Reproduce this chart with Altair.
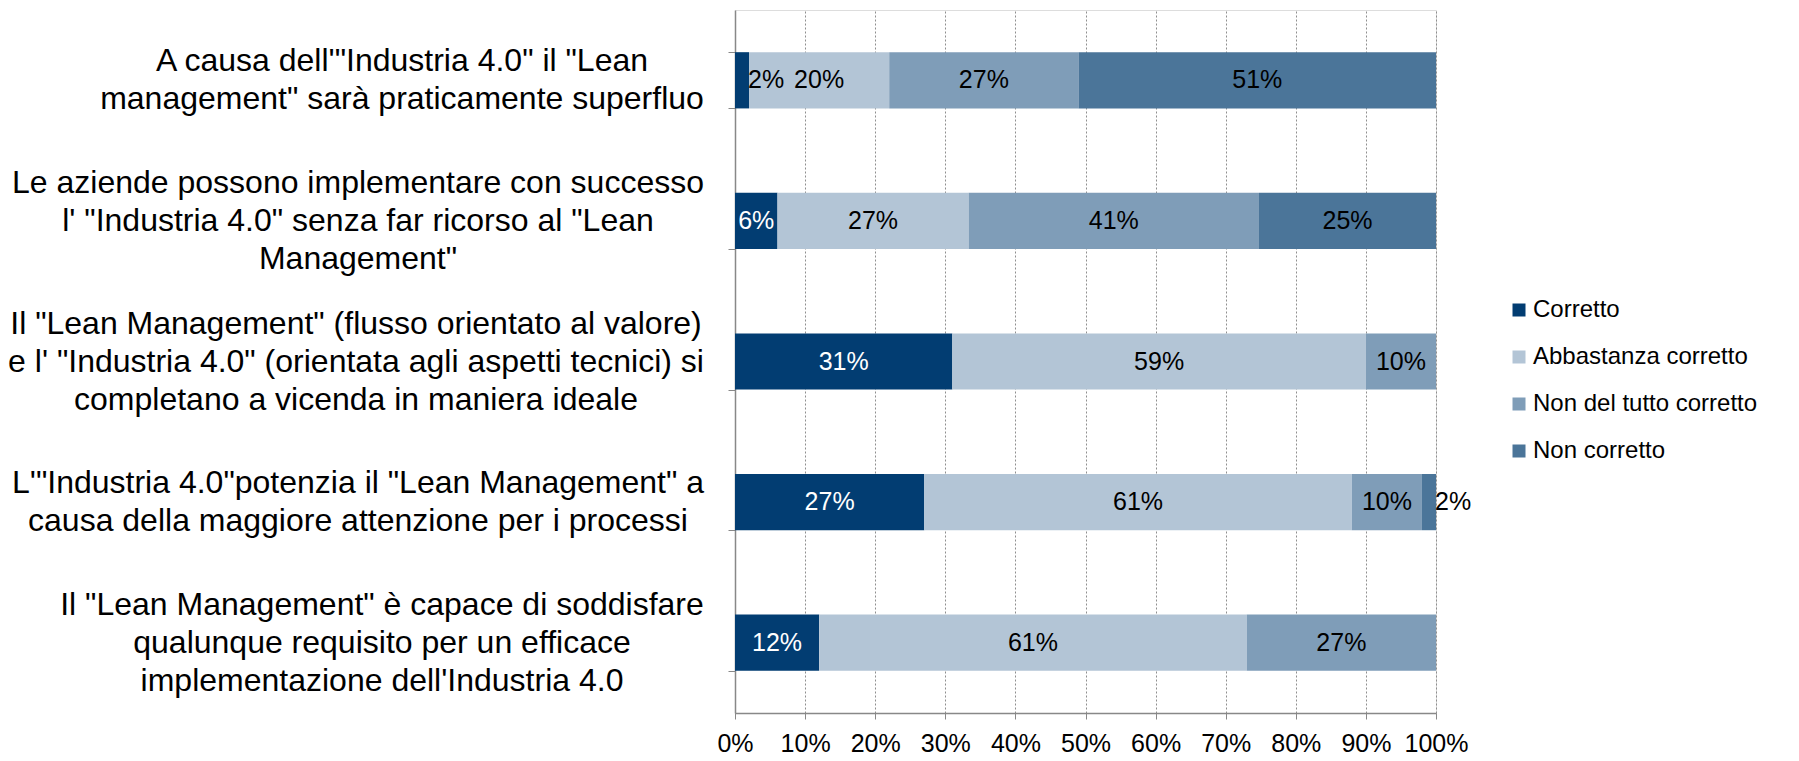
import altair as alt
import pandas as pd

categories = [
    'A causa dell\'"Industria 4.0" il "Lean\nmanagement" sarà praticamente superfluo',
    'Le aziende possono implementare con successo\nl\' "Industria 4.0" senza far ricorso al "Lean\nManagement"',
    'Il "Lean Management" (flusso orientato al valore)\ne l\' "Industria 4.0" (orientata agli aspetti tecnici) si\ncompletano a vicenda in maniera ideale',
    'L\'"Industria 4.0"potenzia il "Lean Management" a\ncausa della maggiore attenzione per i processi',
    'Il "Lean Management" è capace di soddisfare\nqualunque requisito per un efficace\nimplementazione dell\'Industria 4.0',
]
series_names = ["Corretto", "Abbastanza corretto", "Non del tutto corretto", "Non corretto"]
corretto = [2, 6, 31, 27, 12]
abbastanza = [20, 27, 59, 61, 61]
non_del_tutto = [27, 41, 10, 10, 27]
non_corretto = [51, 25, 0, 2, 0]
colors = ["#023D72", "#B3C5D6", "#7F9DB8", "#4B7599"]
x_ticks = [0, 0.1, 0.2, 0.3, 0.4, 0.5, 0.6, 0.7, 0.8, 0.9, 1.0]

rows = []
for s_i, (name, vals) in enumerate(zip(series_names, [corretto, abbastanza, non_del_tutto, non_corretto])):
    for c, v in zip(categories, vals):
        rows.append({"category": c, "series": name, "value": v, "order": s_i})
df = pd.DataFrame(rows)
cat_df = pd.DataFrame({"category": categories})

FONT = "Liberation Sans"
XSCALE = alt.Scale(domain=[0, 1], nice=False)

y_enc = alt.Y(
    "category:N",
    sort=categories,
    scale=alt.Scale(paddingInner=0.6, paddingOuter=0.3),
    axis=alt.Axis(
        title=None,
        labels=False,
        tickBand="extent",
        tickSize=7,
        tickColor="#888888",
        domainColor="#888888",
        domainWidth=1.5,
        grid=False,
    ),
)

bars = alt.Chart(df).mark_bar().encode(
    x=alt.X(
        "value:Q",
        stack="normalize",
        scale=XSCALE,
        axis=alt.Axis(
            title=None,
            format=".0%",
            values=x_ticks,
            labelFont=FONT,
            labelFontSize=25,
            labelColor="black",
            labelPadding=12,
            labelFlush=False,
            grid=True,
            gridDash=[2, 2],
            gridColor="#8f8f8f",
            gridWidth=1,
            tickSize=6,
            tickColor="#888888",
            domainColor="#888888",
            domainWidth=1.5,
        ),
    ),
    y=y_enc,
    color=alt.Color(
        "series:N",
        sort=series_names,
        scale=alt.Scale(domain=series_names, range=colors),
        legend=alt.Legend(
            title=None,
            orient="none",
            legendX=772,
            legendY=288,
            symbolType="square",
            symbolSize=169,
            symbolStrokeWidth=0,
            symbolOpacity=1,
            labelFont=FONT,
            labelFontSize=24,
            labelColor="black",
            labelOffset=2,
            rowPadding=23,
            labelLimit=0,
        ),
    ),
    order=alt.Order("order:Q"),
)

base_text = (
    alt.Chart(df)
    .transform_joinaggregate(total="sum(value)", groupby=["category"])
    .transform_window(cum="sum(value)", sort=[alt.SortField("order")], groupby=["category"], frame=[None, 0])
    .transform_calculate(
        end="datum.cum / datum.total",
        mid="(datum.cum - datum.value / 2) / datum.total",
        label="format(datum.value, 'd') + '%'",
    )
)

mid_labels = base_text.transform_filter("datum.value >= 3").mark_text(
    font=FONT, fontSize=25, align="center", baseline="middle"
).encode(
    x=alt.X("mid:Q", scale=XSCALE, title=None),
    y=alt.Y("category:N", sort=categories),
    text="label:N",
    color=alt.condition("datum.series == 'Corretto'", alt.value("white"), alt.value("black")),
)

small_labels = base_text.transform_filter("datum.value > 0 && datum.value < 3").mark_text(
    font=FONT, fontSize=25, align="left", baseline="middle", dx=-1
).encode(
    x=alt.X("end:Q", scale=XSCALE, title=None),
    y=alt.Y("category:N", sort=categories),
    text="label:N",
    color=alt.value("black"),
)

# category labels: centred lines, block right edge next to the axis, block centred on the band
cat_labels = alt.Chart(cat_df).mark_text(
    font=FONT,
    fontSize=32,
    lineHeight=38,
    lineBreak="\n",
    align="center",
    baseline="middle",
    color="black",
    dx=alt.expr(
        "indexof(datum.category, 'A causa') >= 0 ? -333 : "
        "indexof(datum.category, 'capace') >= 0 ? -353 : "
        "indexof(datum.category, 'flusso') >= 0 ? -379 : -377"
    ),
    dy=alt.expr("-(length(split(datum.category, '\\n')) - 1) * 19"),
).encode(
    x=alt.value(0),
    y=alt.Y("category:N", sort=categories),
    text="category:N",
)

chart = (
    alt.layer(bars, mid_labels, small_labels, cat_labels)
    .properties(
        width=701,
        height=703,
        autosize=alt.AutoSizeParams(type="none"),
        padding={"left": 727, "top": 2, "right": 355, "bottom": 60},
    )
    .configure_view(stroke=None)
    .configure(background="white")
)

chart.save("out.html", embed_options={"renderer": "svg", "actions": False})
